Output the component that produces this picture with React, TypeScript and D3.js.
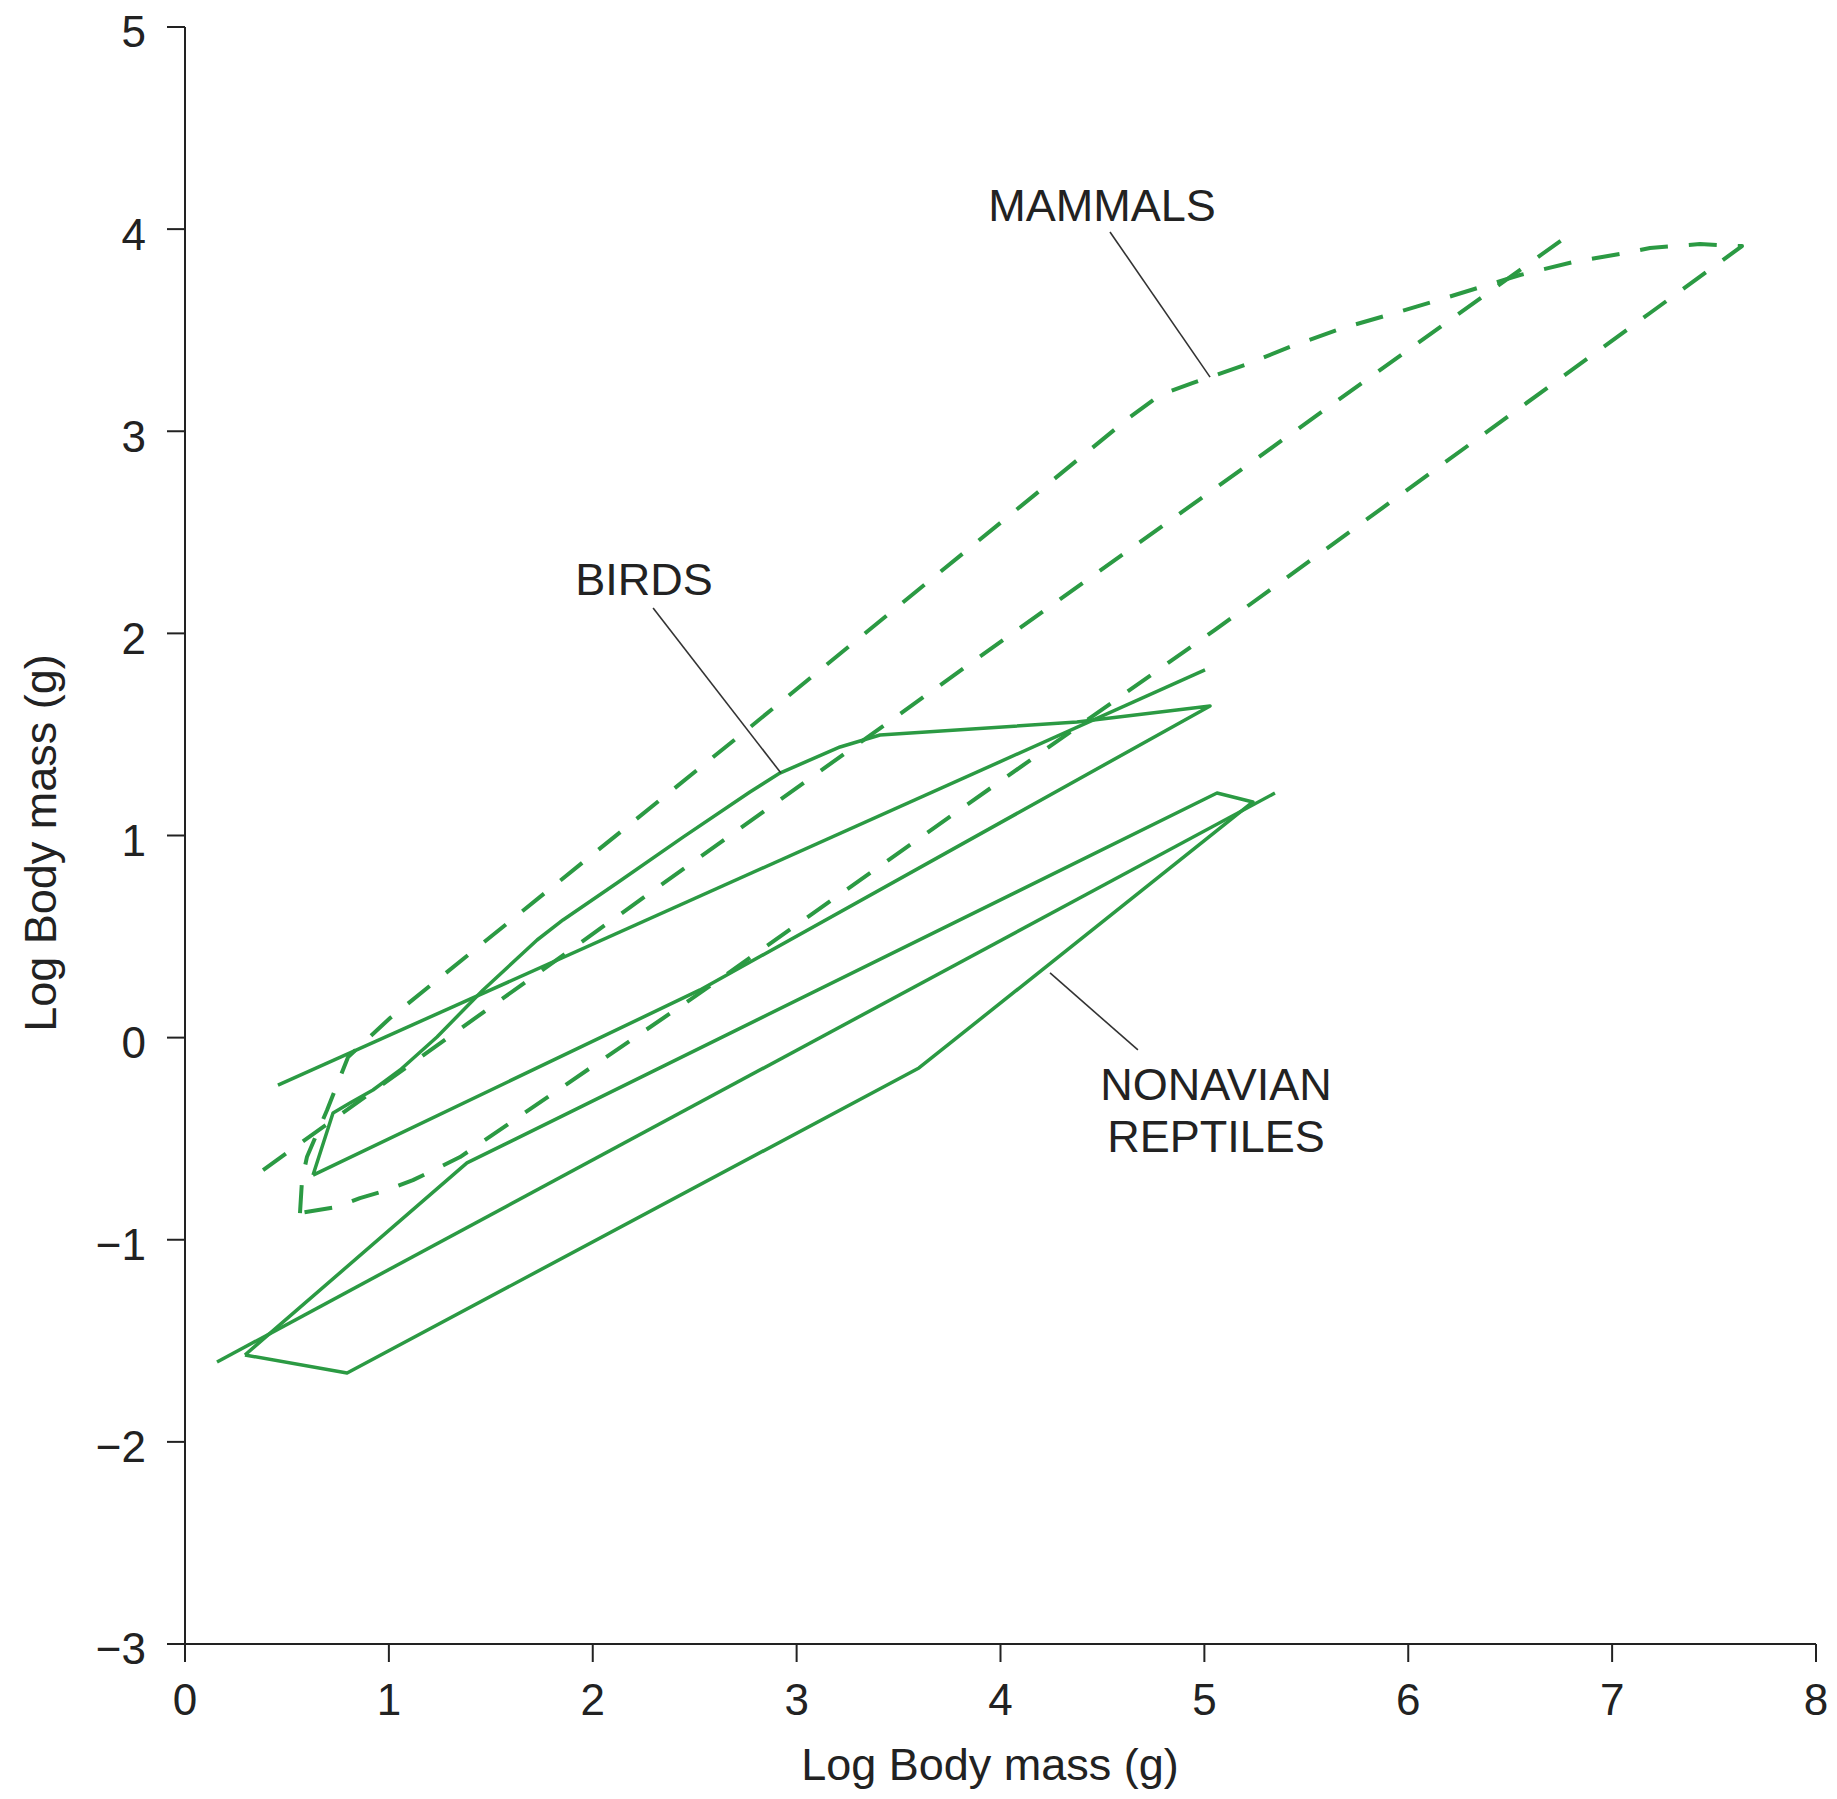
import React from "react";
import * as d3 from "d3";

// ---- Data (log body mass units) ----
const xTicks = [0, 1, 2, 3, 4, 5, 6, 7, 8];
const yTicks = [-3, -2, -1, 0, 1, 2, 3, 4, 5];

// Mammals: dashed closed envelope
const mammalsEnvelope: [number, number][] = [
  [0.564, -0.868], [0.574, -0.705], [0.598, -0.591], [0.697, -0.358], [0.8, -0.096],
  [1.006, 0.097], [2.712, 1.487], [4.635, 3.07], [4.782, 3.179], [4.944, 3.239],
  [5.199, 3.328], [5.444, 3.427], [5.68, 3.511], [5.935, 3.585], [6.18, 3.659],
  [6.548, 3.773], [6.808, 3.837], [7.063, 3.882], [7.186, 3.907], [7.431, 3.926],
  [7.637, 3.916], [7.186, 3.585], [5.052, 2.017], [2.526, 0.221], [1.349, -0.591],
  [1.251, -0.64], [1.118, -0.705], [0.991, -0.754], [0.858, -0.794], [0.746, -0.838],
  [0.564, -0.868],
];
// Mammals: dashed straight line
const mammalsLine: [number, number][] = [[0.383, -0.655], [6.808, 3.986]];

// Birds: solid closed envelope
const birdsEnvelope: [number, number][] = [
  [0.628, -0.68], [0.726, -0.373], [0.809, -0.324], [0.922, -0.259], [1.055, -0.16],
  [1.236, 0.003], [1.462, 0.236], [1.727, 0.483], [1.854, 0.582], [2.119, 0.765],
  [2.443, 0.992], [2.771, 1.215], [2.918, 1.309], [3.213, 1.438], [3.409, 1.497],
  [4.375, 1.561], [5.028, 1.641], [2.526, 0.236], [0.628, -0.68],
];
// Birds: solid straight line
const birdsLine: [number, number][] = [[0.456, -0.235], [5.003, 1.819]];

// Nonavian reptiles: solid closed envelope
const reptilesEnvelope: [number, number][] = [
  [0.294, -1.57], [0.795, -1.659], [3.6, -0.15], [5.238, 1.166], [5.062, 1.21],
  [1.383, -0.62], [0.294, -1.57],
];
// Nonavian reptiles: solid straight line
const reptilesLine: [number, number][] = [[0.157, -1.605], [5.346, 1.21]];

// Annotation labels (data coords of text anchor) and leader lines
const labels = [
  { lines: ["MAMMALS"], x: 4.498, y: 4.04 },
  { lines: ["BIRDS"], x: 2.251, y: 2.19 },
  { lines: ["NONAVIAN", "REPTILES"], x: 5.057, y: -0.309 },
];
const leaders: [number, number][][] = [
  [[4.537, 3.986], [5.028, 3.268]],
  [[2.296, 2.125], [2.923, 1.309]],
  [[4.243, 0.32], [4.674, -0.061]],
];

const W = 1837;
const H = 1799;
const GREEN = "#2b9a43";
const INK = "#222";
const FONT = "'Liberation Sans', Arial, Helvetica, sans-serif";

export default function App() {
  const x = d3.scaleLinear().domain([0, 8]).range([185, 1816]);
  const y = d3.scaleLinear().domain([-3, 5]).range([1644, 27]);
  const line = d3
    .line<[number, number]>()
    .x((d) => x(d[0]))
    .y((d) => y(d[1]))
    .curve(d3.curveLinear);

  const tick = 18;
  const dash = "28 21";

  return (
    <svg
      width={W}
      height={H}
      style={{ position: "absolute", left: 0, top: 0, background: "#fff" }}
      fontFamily={FONT}
    >
      <rect width={W} height={H} fill="#fff" />
      {/* Axes */}
      <g stroke={INK} strokeWidth={2} fill="none">
        <line x1={x(0)} x2={x(0)} y1={y(5)} y2={y(-3) + tick} />
        <line x1={x(0) - tick} x2={x(8)} y1={y(-3)} y2={y(-3)} />
        {yTicks.map((t) => (
          <line key={"yt" + t} x1={x(0) - tick} x2={x(0)} y1={y(t)} y2={y(t)} />
        ))}
        {xTicks.map((t) => (
          <line key={"xt" + t} x1={x(t)} x2={x(t)} y1={y(-3)} y2={y(-3) + tick} />
        ))}
      </g>
      <g fill={INK} fontSize={44}>
        {yTicks.map((t) => (
          <text key={"yl" + t} x={x(0) - 39} y={y(t) + 5} dy="0.35em" textAnchor="end">
            {t < 0 ? "\u2212" + Math.abs(t) : String(t)}
          </text>
        ))}
        {xTicks.map((t) => (
          <text key={"xl" + t} x={x(t)} y={y(-3) + 71} textAnchor="middle">
            {String(t)}
          </text>
        ))}
      </g>
      <text x={990} y={1780} fontSize={45} fill={INK} textAnchor="middle">
        Log Body mass (g)
      </text>
      <text
        transform={`translate(56, ${843}) rotate(-90)`}
        fontSize={45}
        fill={INK}
        textAnchor="middle"
      >
        Log Body mass (g)
      </text>

      {/* Envelopes */}
      <g fill="none" stroke={GREEN} strokeLinejoin="round">
        <path d={line(reptilesEnvelope) || ""} strokeWidth={3.5} />
        <path d={line(reptilesLine) || ""} strokeWidth={3.5} />
        <path d={line(birdsEnvelope) || ""} strokeWidth={3.5} />
        <path d={line(birdsLine) || ""} strokeWidth={3.5} />
        <path d={line(mammalsEnvelope) || ""} strokeWidth={4} strokeDasharray={dash} />
        <path d={line(mammalsLine) || ""} strokeWidth={4} strokeDasharray={dash} />
      </g>

      {/* Leaders */}
      <g stroke="#333" strokeWidth={1.6}>
        {leaders.map((l, i) => (
          <line key={"ld" + i} x1={x(l[0][0])} y1={y(l[0][1])} x2={x(l[1][0])} y2={y(l[1][1])} />
        ))}
      </g>
      <g fill={INK} fontSize={45} textAnchor="middle">
        {labels.map((lb, i) => (
          <text key={"lb" + i} x={x(lb.x)} y={y(lb.y)}>
            {lb.lines.map((s, j) => (
              <tspan key={j} x={x(lb.x)} dy={j === 0 ? 0 : 52}>
                {s}
              </tspan>
            ))}
          </text>
        ))}
      </g>
    </svg>
  );
}
